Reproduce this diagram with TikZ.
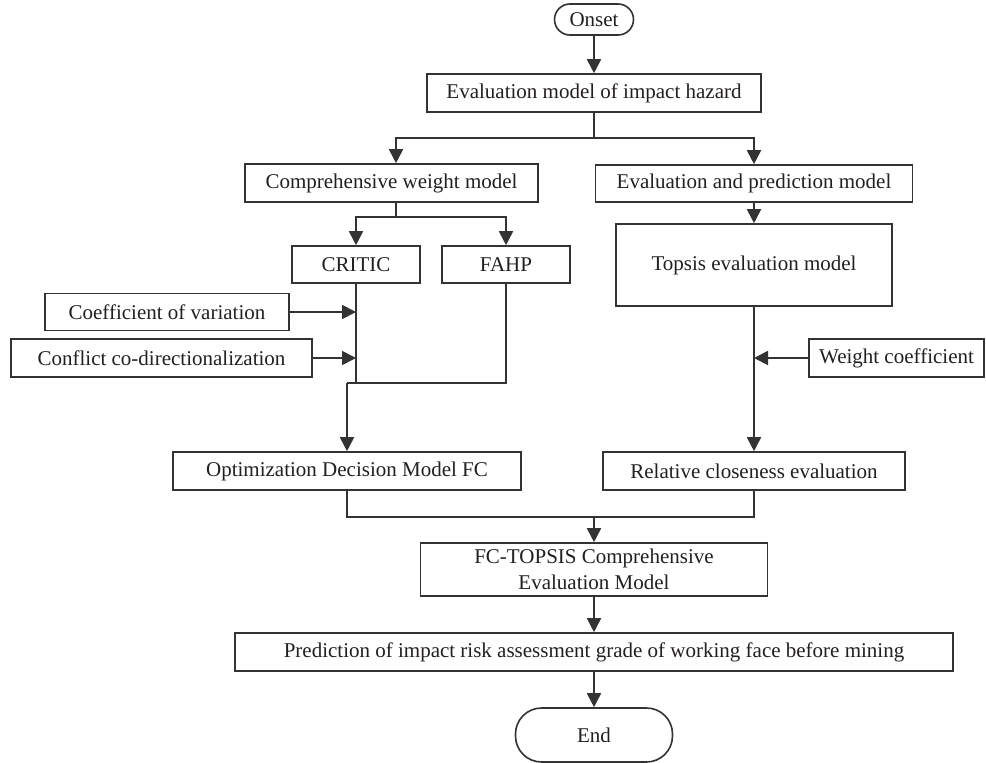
\documentclass[tikz,border=0pt]{standalone}
\usepackage{fontspec}
\setmainfont{Liberation Serif}
\usetikzlibrary{arrows.meta}
\definecolor{linec}{HTML}{333333}
\definecolor{textc}{HTML}{231F20}
\begin{document}
\begin{tikzpicture}[x=1pt,y=-1pt,
  box/.style={draw=linec, line width=1.6pt, inner sep=0pt, text=textc,
    font=\fontsize{21}{25.5}\selectfont, align=center},
  pill/.style={box, rounded corners=#1},
  conn/.style={draw=linec, line width=1.8pt},
  arr/.style={conn, -{Triangle[length=14pt,width=14pt]}}]
\useasboundingbox (0,0) rectangle (986,763);

% nodes
\node[pill=15.5pt, minimum width=79pt, minimum height=31pt] (onset) at (594,19.5) {Onset};
\node[box, minimum width=334pt, minimum height=38pt] (eval) at (594,93) {Evaluation model of impact hazard};
\node[box, minimum width=293pt, minimum height=38pt] (compw) at (391.5,183) {Comprehensive weight model};
\node[box, minimum width=317pt, minimum height=37pt] (evalpred) at (754,183.5) {Evaluation and prediction model};
\node[box, minimum width=128pt, minimum height=37pt] (critic) at (356,264.5) {CRITIC};
\node[box, minimum width=128pt, minimum height=37pt] (fahp) at (506,264.5) {FAHP};
\node[box, minimum width=276pt, minimum height=82pt] (topsis) at (754,265) {Topsis evaluation model};
\node[box, minimum width=244pt, minimum height=37pt] (coef) at (167,312) {Coefficient of variation};
\node[box, minimum width=301pt, minimum height=38pt] (confl) at (161.5,358) {Conflict co-directionalization};
\node[box, minimum width=175pt, minimum height=38pt] (weight) at (896.5,358) {Weight coefficient};
\node[box, minimum width=348pt, minimum height=38pt] (opt) at (347,471) {Optimization Decision Model FC};
\node[box, minimum width=302pt, minimum height=38pt] (rel) at (754,471) {Relative closeness evaluation};
\node[box, minimum width=347pt, minimum height=53pt] (fct) at (594,569.5) {FC-TOPSIS Comprehensive\\Evaluation Model};
\node[box, minimum width=718pt, minimum height=38pt] (pred) at (594,652) {Prediction of impact risk assessment grade of working face before mining};
\node[pill=26pt, minimum width=157pt, minimum height=54pt] (endn) at (594,735) {End};

% junctions
\coordinate (b1) at (594,138);
\coordinate (b2) at (396,217);
\coordinate (j0) at (347,383);
\coordinate (m) at (594,517);

% connectors
\draw[arr] (onset.south) -- (eval.north);
\draw[conn] (eval.south) -- (b1);
\draw[arr] (b1) -| ([xshift=4.5pt]compw.north);
\draw[arr] (b1) -| (evalpred.north);
\draw[conn] ([xshift=4.5pt]compw.south) -- (b2);
\draw[arr] (b2) -| (critic.north);
\draw[arr] (b2) -| (fahp.north);
\draw[arr] (evalpred.south) -- (topsis.north);
\draw[conn] (critic.south) -- (critic.south |- j0);
\draw[conn] (fahp.south) |- (j0);
\draw[arr] (j0) -- (opt.north);
\draw[arr] (coef.east) -- (coef.east -| critic.south);
\draw[arr] (confl.east) -- (confl.east -| critic.south);
\draw[arr] (topsis.south) -- (rel.north);
\draw[arr] (weight.west) -- (weight.west -| topsis.south);
\draw[conn] (opt.south) |- (m);
\draw[conn] (rel.south) |- (m);
\draw[arr] (m) -- (fct.north);
\draw[arr] (fct.south) -- (pred.north);
\draw[arr] (pred.south) -- (endn.north);
\end{tikzpicture}
\end{document}
